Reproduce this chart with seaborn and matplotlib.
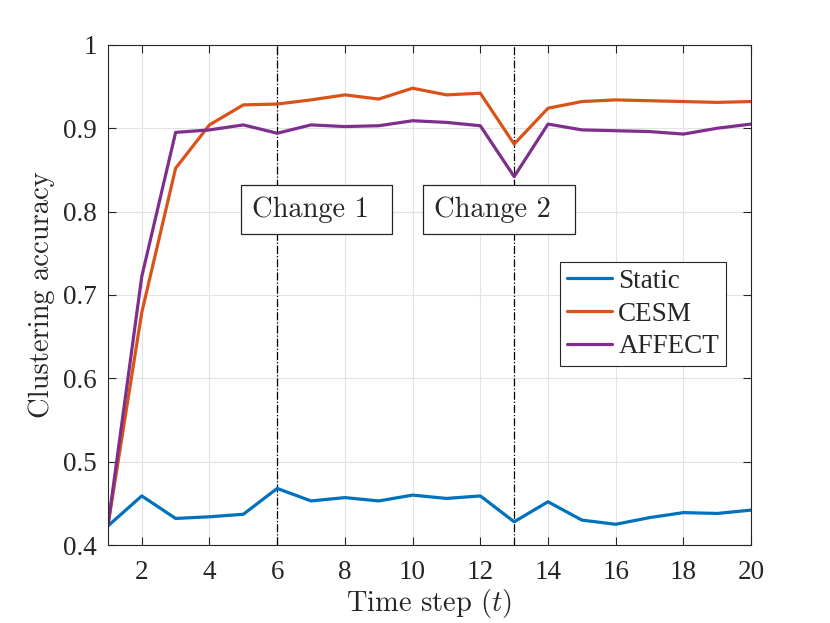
import pandas as pd
import numpy as np
import matplotlib
matplotlib.use('Agg')
import matplotlib.pyplot as plt
from matplotlib.patches import Rectangle
import seaborn as sns

# values
time_steps = list(range(1, 21))
static_acc = [0.423, 0.459, 0.432, 0.434, 0.437, 0.468, 0.453, 0.457, 0.453, 0.460,
              0.456, 0.459, 0.428, 0.452, 0.430, 0.425, 0.433, 0.439, 0.438, 0.442]
cesm_acc = [0.423, 0.679, 0.852, 0.904, 0.928, 0.929, 0.934, 0.940, 0.935, 0.948,
            0.940, 0.942, 0.881, 0.924, 0.932, 0.934, 0.933, 0.932, 0.931, 0.932]
affect_acc = [0.423, 0.722, 0.895, 0.898, 0.904, 0.894, 0.904, 0.902, 0.903, 0.909,
              0.907, 0.903, 0.842, 0.905, 0.898, 0.897, 0.896, 0.893, 0.900, 0.905]
methods = ['Static', 'CESM', 'AFFECT']
change_steps = [6, 13]
change_labels = ['Change 1', 'Change 2']

df = pd.DataFrame({
    't': time_steps * 3,
    'acc': static_acc + cesm_acc + affect_acc,
    'method': [m for m in methods for _ in time_steps],
})

sns.set_style('ticks')
plt.rcParams['mathtext.fontset'] = 'cm'
tick_font = 'Liberation Serif'
cm_font = 'cmr10'

fig = plt.figure(figsize=(8.3, 6.23), dpi=100)
ax = fig.add_axes([0.130, 0.125, 0.775, 0.803])

palette = {'Static': '#0072BD', 'CESM': '#D95319', 'AFFECT': '#7E2F8E'}
sns.lineplot(data=df, x='t', y='acc', hue='method', palette=palette,
             linewidth=2.3, ax=ax, legend=True)

for x in change_steps:
    ax.axvline(x, color='black', linestyle='-.', linewidth=0.9, zorder=1)

# annotation boxes (fixed-size, like the MATLAB textboxes)
boxes = [(4.93, 9.40), (10.31, 14.80)]
for (x0, x1), label in zip(boxes, change_labels):
    ax.add_patch(Rectangle((x0, 0.7727), x1 - x0, 0.0589, facecolor='white',
                           edgecolor='#262626', linewidth=0.9, zorder=3))
    ax.text(x0 + 0.32, 0.802, label, fontsize=20.5, family=cm_font,
            ha='left', va='center', zorder=4)

ax.set_xlim(1, 20)
ax.set_ylim(0.4, 1)
ax.set_xticks([2, 4, 6, 8, 10, 12, 14, 16, 18, 20])
ax.set_yticks([0.4, 0.5, 0.6, 0.7, 0.8, 0.9, 1])
ax.set_yticklabels(['0.4', '0.5', '0.6', '0.7', '0.8', '0.9', '1'])
ax.grid(True, color='#e3e3e3', linewidth=0.8)
ax.set_axisbelow(True)
ax.tick_params(direction='in', top=True, right=True, length=6, width=0.8,
               colors='#262626', labelsize=19.5)
ax.tick_params(axis='x', pad=11)
ax.tick_params(axis='y', pad=8)
for lab in ax.get_xticklabels() + ax.get_yticklabels():
    lab.set_family(tick_font)
for s in ax.spines.values():
    s.set_visible(True)
    s.set_color('#262626')
    s.set_linewidth(0.8)

ax.set_xlabel(r'Time step $(t)$', fontsize=20.5, family=cm_font, labelpad=1)
ax.set_ylabel('Clustering accuracy', fontsize=20.5, family=cm_font, labelpad=6)

handles, labels = ax.get_legend_handles_labels()
leg = ax.legend(handles, labels, loc='upper left', bbox_to_anchor=(0.703, 0.566),
                fancybox=False, framealpha=1, edgecolor='#262626',
                prop={'family': tick_font, 'size': 19.5}, handlelength=1.65,
                handletextpad=0.25, borderpad=0.25, labelspacing=0.29, borderaxespad=0)
leg.get_frame().set_linewidth(0.8)

fig.savefig('out.png', dpi=100)
